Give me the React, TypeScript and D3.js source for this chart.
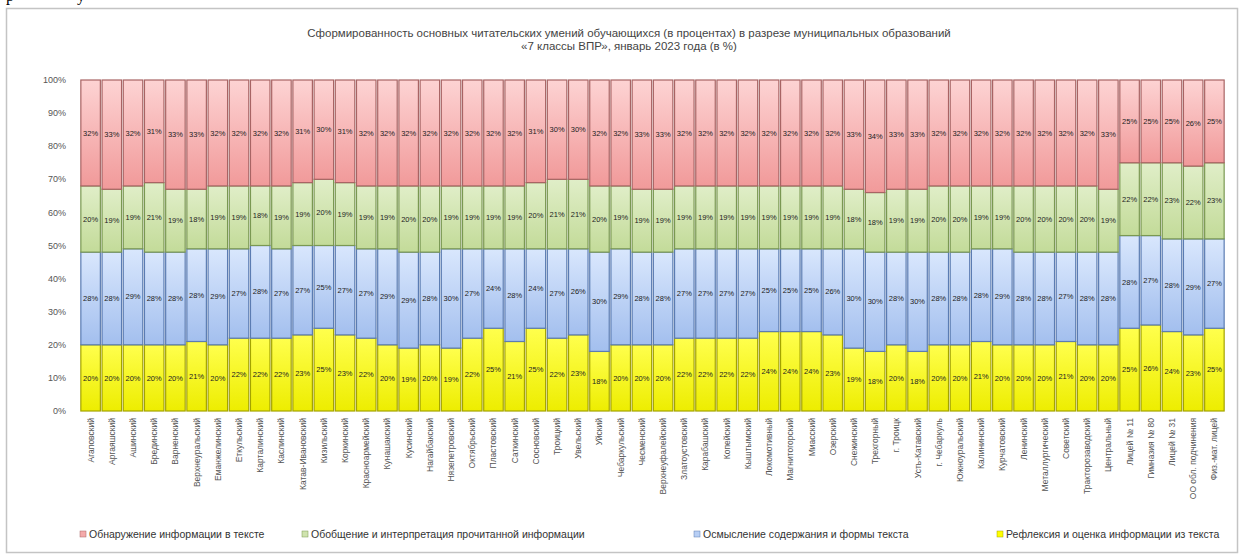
import React from 'react';
import * as d3 from 'd3';

const categories: string[] = [
  'Агаповский', 'Аргаяшский', 'Ашинский', 'Брединский', 'Варненский', 'Верхнеуральский',
  'Еманжелинский', 'Еткульский', 'Карталинский', 'Каслинский', 'Катав-Ивановский', 'Кизильский',
  'Коркинский', 'Красноармейский', 'Кунашакский', 'Кусинский', 'Нагайбакский', 'Нязепетровский',
  'Октябрьский', 'Пластовский', 'Саткинский', 'Сосновский', 'Троицкий', 'Увельский',
  'Уйский', 'Чебаркульский', 'Чесменский', 'Верхнеуфалейский', 'Златоустовский', 'Карабашский',
  'Копейский', 'Кыштымский', 'Локомотивный', 'Магнитогорский', 'Миасский', 'Озерский',
  'Снежинский', 'Трехгорный', 'г. Троицк', 'Усть-Катавский', 'г. Чебаркуль', 'Южноуральский',
  'Калининский', 'Курчатовский', 'Ленинский', 'Металлургический', 'Советский', 'Тракторозаводский',
  'Центральный', 'Лицей № 11', 'Гимназия № 80', 'Лицей № 31', 'ОО обл. подчинения', 'Физ.-мат. лицей',
];

// bottom series (yellow)
const yellowVals: number[] = [
  20, 20, 20, 20, 20, 21, 20, 22, 22, 22,
  23, 25, 23, 22, 20, 19, 20, 19, 22, 25,
  21, 25, 22, 23, 18, 20, 20, 20, 22, 22,
  22, 22, 24, 24, 24, 23, 19, 18, 20, 18,
  20, 20, 21, 20, 20, 20, 21, 20, 20, 25,
  26, 24, 23, 25,
];
const blueVals: number[] = [
  28, 28, 29, 28, 28, 28, 29, 27, 28, 27,
  27, 25, 27, 27, 29, 29, 28, 30, 27, 24,
  28, 24, 27, 26, 30, 29, 28, 28, 27, 27,
  27, 27, 25, 25, 25, 26, 30, 30, 28, 30,
  28, 28, 28, 29, 28, 28, 27, 28, 28, 28,
  27, 28, 29, 27,
];
const greenVals: number[] = [
  20, 19, 19, 21, 19, 18, 19, 19, 18, 19,
  19, 20, 19, 19, 19, 20, 20, 19, 19, 19,
  19, 20, 21, 21, 20, 19, 19, 19, 19, 19,
  19, 19, 19, 19, 19, 19, 18, 18, 19, 19,
  20, 20, 19, 19, 20, 20, 20, 20, 19, 22,
  22, 23, 22, 23,
];
const redVals: number[] = [
  32, 33, 32, 31, 33, 33, 32, 32, 32, 32,
  31, 30, 31, 32, 32, 32, 32, 32, 32, 32,
  32, 31, 30, 30, 32, 32, 33, 33, 32, 32,
  32, 32, 32, 32, 32, 32, 33, 34, 33, 33,
  32, 32, 32, 32, 32, 32, 32, 32, 33, 25,
  25, 25, 26, 25,
];

const seriesKeys = ['yellow', 'blue', 'green', 'red'];
const legendKeys = ['red', 'green', 'blue', 'yellow'];
const seriesNames: Record<string, string> = {
  red: 'Обнаружение информации в тексте',
  green: 'Обобщение и интерпретация прочитанной информации',
  blue: 'Осмысление содержания и формы текста',
  yellow: 'Рефлексия и оценка информации из текста',
};
const yTicks = [0, 0.1, 0.2, 0.3, 0.4, 0.5, 0.6, 0.7, 0.8, 0.9, 1];
const titleLines = [
  'Сформированность основных читательских умений обучающихся (в процентах) в разрезе муниципальных образований',
  '«7 классы ВПР», январь 2023 года (в %)',
];

const palette: Record<string, { top: string; bottom: string; stroke: string; mid: string }> = {
  red: { top: '#fdd3d3', bottom: '#f19a9a', stroke: '#a86464', mid: '#f4aaaa' },
  green: { top: '#e0eec8', bottom: '#c3db99', stroke: '#7a9852', mid: '#cfe3ae' },
  blue: { top: '#d9e7fd', bottom: '#a3bfee', stroke: '#5b7cb2', mid: '#b8cff5' },
  yellow: { top: '#ffff4d', bottom: '#eded00', stroke: '#a3a300', mid: '#ffff00' },
};

export default function App() {
  const W = 1243;
  const H = 555;
  const left = 80, right = 1225, top = 80, bottom = 411;

  const rows = categories.map((c, i) => ({
    idx: String(i),
    name: c,
    yellow: yellowVals[i],
    blue: blueVals[i],
    green: greenVals[i],
    red: redVals[i],
  }));

  const stacked = d3.stack<any>().keys(seriesKeys).offset(d3.stackOffsetExpand)(rows);

  const x = d3.scaleBand<string>().domain(rows.map(r => r.idx)).range([left, right]).paddingInner(0.08).paddingOuter(0.04);
  const y = d3.scaleLinear().domain([0, 1]).range([bottom, top]);
  const font = 'Liberation Sans, Arial, sans-serif';

  const legendPos = [
    { mx: 80, tx: 89 },
    { mx: 302, tx: 311 },
    { mx: 694, tx: 703 },
    { mx: 997, tx: 1006 },
  ];

  return (
    <svg width={W} height={H} style={{ position: 'absolute', left: 0, top: 0, background: '#fff' }} fontFamily={font}>
      <defs>
        {Object.keys(palette).map(k => (
          <linearGradient key={k} id={`g-${k}`} x1="0" y1="0" x2="0" y2="1">
            <stop offset="0%" stopColor={palette[k].top} />
            <stop offset="100%" stopColor={palette[k].bottom} />
          </linearGradient>
        ))}
      </defs>
      <rect x={0} y={0} width={W} height={H} fill="#fff" />
      <text x={6} y={1} fontFamily="Liberation Serif, serif" fontSize={16} fill="#000">р</text>
      <text x={77} y={1} fontFamily="Liberation Serif, serif" fontSize={16} fill="#000">у</text>
      <rect x={6.5} y={8.5} width={1231} height={544} fill="#fff" stroke="#c4c4c4" strokeWidth={1.5} />

      {titleLines.map((t, i) => (
        <text key={i} x={629} y={37 + i * 13} textAnchor="middle" fontSize={11.5} fill="#444">{t}</text>
      ))}

      {yTicks.map(t => (
        <text key={t} x={66} y={y(t)} dy="0.35em" textAnchor="end" fontSize={9} fill="#555">
          {Math.round(t * 100) + '%'}
        </text>
      ))}

      {stacked.map(s => (
        <g key={s.key}>
          {s.map((d: any, i: number) => {
            const x0 = x(rows[i].idx)!;
            const y0 = y(d[1]);
            const h = y(d[0]) - y(d[1]);
            return (
              <rect key={i} x={x0} y={y0} width={x.bandwidth()} height={h}
                fill={`url(#g-${s.key})`} stroke={palette[s.key].stroke} strokeWidth={1.2} />
            );
          })}
        </g>
      ))}

      {stacked.map(s => (
        <g key={'l' + s.key}>
          {s.map((d: any, i: number) => {
            const cx = x(rows[i].idx)! + x.bandwidth() / 2;
            const cy = (y(d[0]) + y(d[1])) / 2;
            return (
              <text key={i} x={cx} y={cy} dy="0.35em" textAnchor="middle" fontSize={7.5} fill="#222">
                {(rows[i] as any)[s.key] + '%'}
              </text>
            );
          })}
        </g>
      ))}

      {rows.map(r => {
        const cx = x(r.idx)! + x.bandwidth() / 2;
        return (
          <text key={r.idx} transform={`translate(${cx},${bottom + 7}) rotate(-90)`} dy="0.35em"
            textAnchor="end" fontSize={8.5} fill="#555">{r.name}</text>
        );
      })}

      {legendKeys.map((k, i) => (
        <g key={k}>
          <rect x={legendPos[i].mx} y={531} width={6} height={6} fill={palette[k].mid} stroke={palette[k].stroke} strokeWidth={0.5} />
          <text x={legendPos[i].tx} y={534} dy="0.35em" fontSize={10.5} fill="#333">{seriesNames[k]}</text>
        </g>
      ))}
    </svg>
  );
}
